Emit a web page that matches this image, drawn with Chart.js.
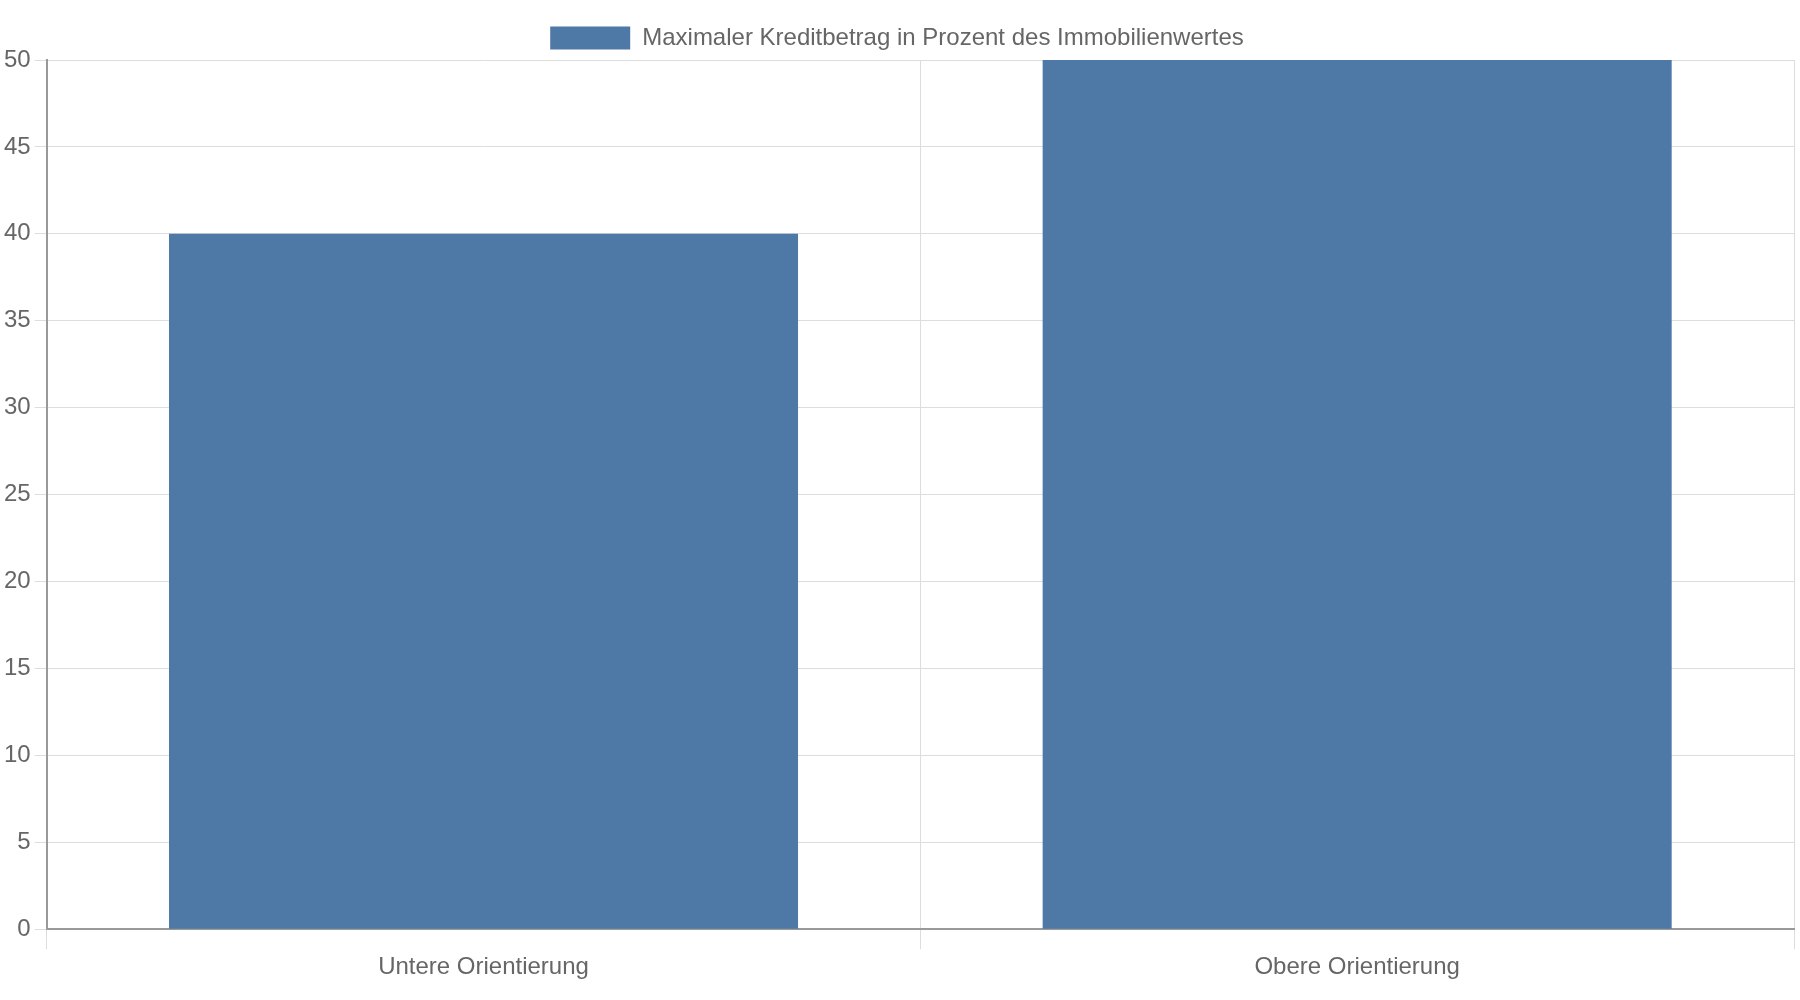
<!DOCTYPE html>
<html>
<head>
<meta charset="utf-8">
<script src="https://cdn.jsdelivr.net/npm/chart.js"></script>
<style>
  html, body { margin: 0; padding: 0; background: #fff; }
  #wrap { width: 1800px; height: 1000px; position: relative; }
</style>
</head>
<body>
<div id="wrap"><canvas id="chart"></canvas></div>
<script>
const categories = ["Untere Orientierung", "Obere Orientierung"];
const seriesLabel = "Maximaler Kreditbetrag in Prozent des Immobilienwertes";
const seriesValues = [40, 50];

Chart.defaults.font.family = "'Liberation Sans', Arial, sans-serif";
Chart.defaults.font.size = 24;
Chart.defaults.color = "#666";

new Chart(document.getElementById("chart"), {
  type: "bar",
  data: {
    labels: categories,
    datasets: [{
      label: seriesLabel,
      data: seriesValues,
      backgroundColor: "#4e79a7",
      borderWidth: 0
    }]
  },
  options: {
    responsive: true,
    maintainAspectRatio: false,
    animation: false,
    layout: { padding: { top: 8, right: 6, bottom: 14 } },
    plugins: {
      legend: {
        labels: { boxWidth: 80, boxHeight: 23, padding: 18 }
      },
      tooltip: { enabled: false }
    },
    scales: {
      x: {
        grid: { color: "#ddd", tickLength: 20 },
        border: { color: "#999", width: 2 },
        ticks: { padding: 4 }
      },
      y: {
        min: 0,
        max: 50,
        ticks: { stepSize: 5, padding: 4 },
        grid: { color: "#ddd", tickLength: 12 },
        border: { color: "#999", width: 2 }
      }
    }
  }
});
</script>
</body>
</html>
